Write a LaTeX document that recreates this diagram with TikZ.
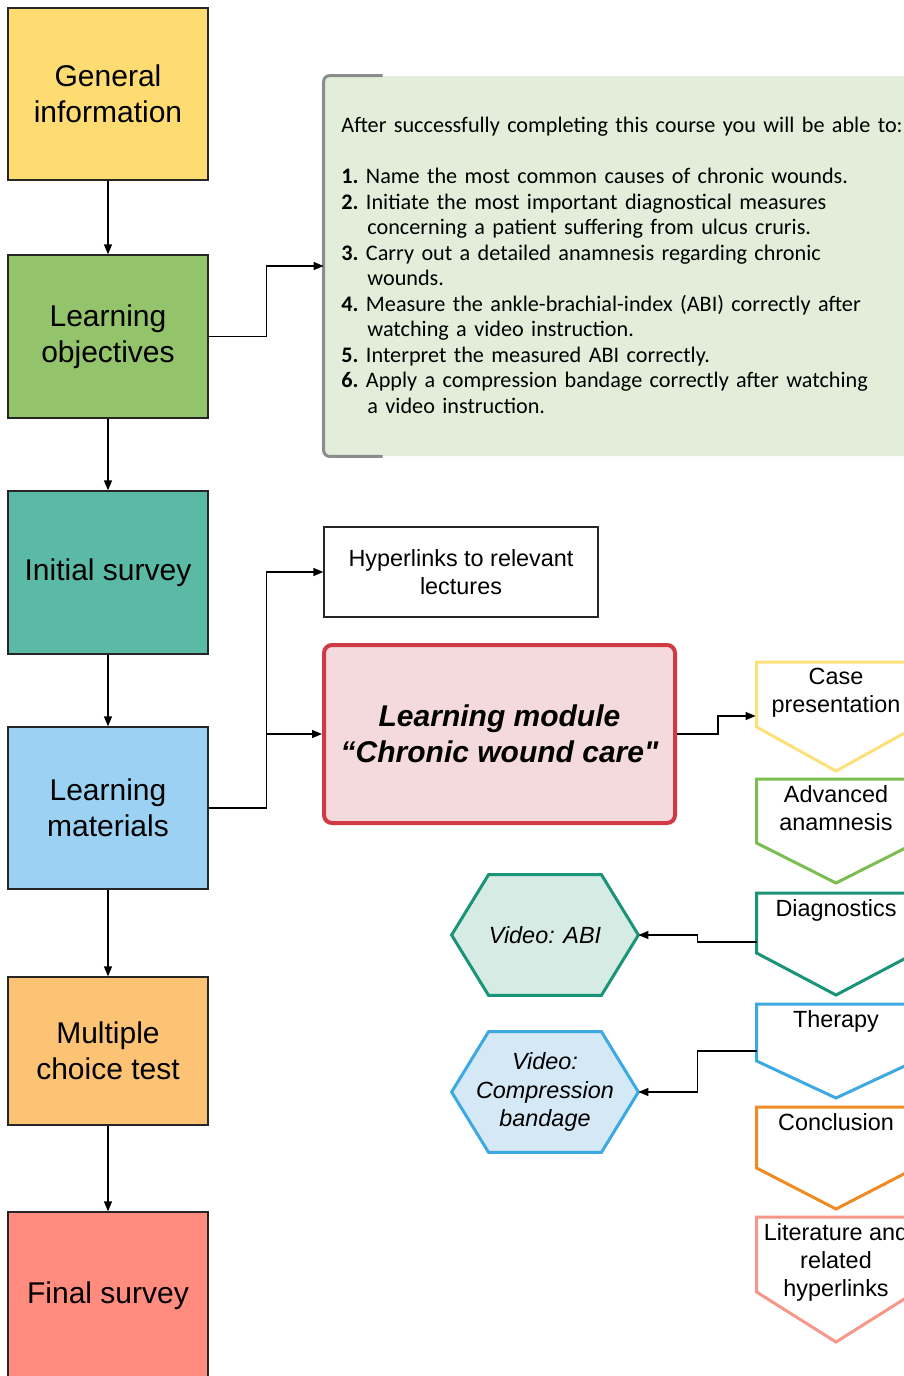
\documentclass[tikz,border=0pt]{standalone}
\usepackage{fontspec}
\setmainfont{Liberation Sans}
\newfontfamily\goalfont{Carlito}
\usetikzlibrary{calc}
\usetikzlibrary{arrows.meta}
\usetikzlibrary{backgrounds}

\definecolor{geninfo}{HTML}{FEDC72}
\definecolor{objgreen}{HTML}{93C36B}
\definecolor{initteal}{HTML}{5BBAA5}
\definecolor{matblue}{HTML}{9BD1F2}
\definecolor{mcorange}{HTML}{FDC374}
\definecolor{finalred}{HTML}{FF8C7E}
\definecolor{goalfill}{HTML}{E2EED9}
\definecolor{goalgray}{HTML}{8C8C8C}
\definecolor{modfill}{HTML}{F4DADC}
\definecolor{modred}{HTML}{D03A44}
\definecolor{caseyellow}{HTML}{FDE07A}
\definecolor{anagreen}{HTML}{7CBD4F}
\definecolor{diagteal}{HTML}{1A9479}
\definecolor{therblue}{HTML}{3CA9E2}
\definecolor{concorange}{HTML}{EF8B22}
\definecolor{litsalmon}{HTML}{F8968A}
\definecolor{abifill}{HTML}{D5EBE3}
\definecolor{bandfill}{HTML}{D5E8F6}

\newcommand\goalitem[2]{\par\hangindent=13pt\hangafter=1\textbf{#1.}\ #2\par}

\tikzset{
 stage/.style={draw=black!85, line width=0.65pt, minimum width=100pt, inner sep=0, align=center, font=\fontsize{15}{18}\selectfont},
 flow/.style={black, line width=0.65pt, ->, >={Triangle[length=5pt,width=4pt]}},
 chev/.style={line width=1.5pt},
 chevtext/.style={anchor=north, minimum width=79pt, inner xsep=0, inner ysep=3pt, align=center, font=\fontsize{11.7}{14}\selectfont},
 video/.style={minimum width=93pt, minimum height=60pt, inner sep=0, align=center, font=\fontsize{11.7}{14.25}\selectfont\itshape},
}

\begin{document}
\begin{tikzpicture}[x=0.5pt, y=-0.5pt]
\useasboundingbox (0,0) rectangle (904,1376);
\clip (0,0) rectangle (904,1376);
\begin{scope}[on background layer]
\fill[white] (0,0) rectangle (904,1376);
\end{scope}

% course steps
\node[stage, fill=geninfo, minimum height=86pt] (gen) at (108,94) {General\\information};
\node[stage, fill=objgreen, minimum height=81.5pt] (obj) at (108,336.5) {Learning\\objectives};
\node[stage, fill=initteal, minimum height=81.5pt] (init) at (108,572.5) {Initial survey};
\node[stage, fill=matblue, minimum height=81pt] (mat) at (108,808) {Learning\\materials};
\node[stage, fill=mcorange, minimum height=74pt] (mct) at (108,1051) {Multiple\\choice test};
\node[stage, fill=finalred, minimum height=84pt] (final) at (108,1296) {Final survey};
\foreach \a/\b in {gen/obj, obj/init, init/mat, mat/mct, mct/final}
 \draw[flow] (\a) -- (\b);

% learning objectives
\node[fill=goalfill, rounded corners=3pt, minimum width=303pt, minimum height=190pt] (goals) at (627,266) {};
\draw[goalgray, line width=1.5pt, rounded corners=3pt] ($(goals.north west)+(59,0)$) -- (goals.north west) -- (goals.south west) -- ($(goals.south west)+(59,0)$);
\node[anchor=north west, inner sep=0, text width=300pt, align=left, font=\goalfont\fontsize{11.1}{12.75}\selectfont] (goaltext) at (341,117) {\parindent=0pt
After successfully completing this course you will be able to:\par\vspace{12.75pt}
\goalitem{1}{Name the most common causes of chronic wounds.}
\goalitem{2}{Initiate the most important diagnostical measures\newline concerning a patient suffering from ulcus cruris.}
\goalitem{3}{Carry out a detailed anamnesis regarding chronic\newline wounds.}
\goalitem{4}{Measure the ankle-brachial-index (ABI) correctly after\newline watching a video instruction.}
\goalitem{5}{Interpret the measured ABI correctly.}
\goalitem{6}{Apply a compression bandage correctly after watching\newline a video instruction.}};
\draw[flow] (obj.east) -- ++(58,0) |- (goals.west);

% materials
\node[draw=black!85, line width=0.65pt, minimum width=137pt, minimum height=45pt, align=center, font=\fontsize{11.7}{14}\selectfont] (links) at (461,572) {Hyperlinks to relevant\\lectures};
\node[draw=modred, fill=modfill, line width=2pt, rounded corners=4pt, minimum width=175.5pt, minimum height=89pt, align=center, font=\fontsize{15}{18}\selectfont\bfseries\itshape] (module) at (499.5,734) {Learning module\\“Chronic wound care\textquotedbl};
\draw[flow] (mat.east) -- ++(58,0) |- (links.west);
\draw[flow] (mat.east) -- ++(58,0) |- (module.west);

% module chapters
\foreach \name/\top/\side/\tip/\col/\txt in {
 case/662/65/109/caseyellow/{Case\\presentation},
 ana/779/64/104/anagreen/{Advanced\\anamnesis},
 diag/893/60/102/diagteal/{Diagnostics},
 ther/1004/57/94/therblue/{Therapy},
 conc/1107/61/102/concorange/{Conclusion},
 lit/1217/75/125/litsalmon/{Literature and\\related\\hyperlinks}} {
 \node[chevtext] (\name) at (836,\top) {\txt};
 \draw[chev, \col] (\name.north west) -- (\name.north east) -- ++(0,\side) -- ($(\name.north)+(0,\tip)$) -- ($(\name.north west)+(0,\side)$) -- cycle;
}
\coordinate (casein) at ($(case.north west)+(-1,54)$);
\coordinate (diagout) at ($(diag.north west)+(0,49)$);
\coordinate (therout) at ($(ther.north west)+(0,47)$);
\draw[flow] (module.east) -- ++(41,0) |- (casein);

% videos
\node[video] (abi) at (545,935) {Video: ABI};
\node[video] (band) at (545,1092) {Video:\\Compression\\bandage};
\begin{scope}[on background layer]
\foreach \v/\col/\fillc in {abi/diagteal/abifill, band/therblue/bandfill}
 \filldraw[line width=1.5pt, draw=\col, fill=\fillc] (\v.west) -- ($(\v.north west)+(37,0)$) -- ($(\v.north east)+(-37,0)$) -- (\v.east) -- ($(\v.south east)+(-37,0)$) -- ($(\v.south west)+(37,0)$) -- cycle;
\end{scope}
\draw[flow] (diagout) -- ++(-59,0) |- (abi.east);
\draw[flow] (therout) -- ++(-59,0) |- (band.east);
\end{tikzpicture}
\end{document}
